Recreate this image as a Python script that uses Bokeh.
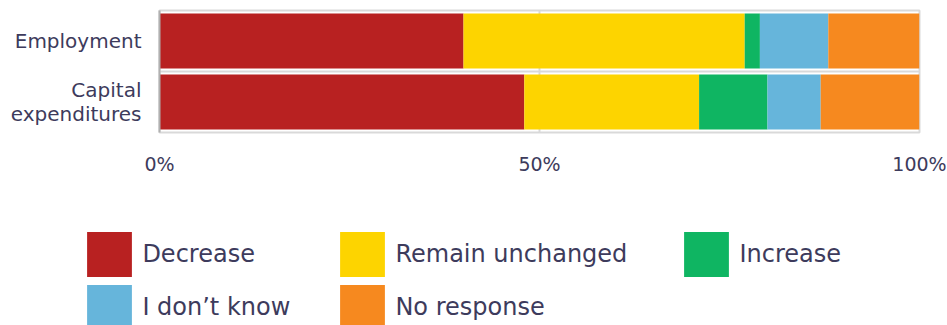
from bokeh.plotting import figure
from bokeh.models import (FactorRange, Legend, LegendItem, FixedTicker, Span,
                          ColumnDataSource, Range1d)
from bokeh.embed import file_html
from bokeh.resources import INLINE

# ---- data ----
categories = ["Employment", "Capital\nexpenditures"]
series = ["Decrease", "Remain unchanged", "Increase", "I don't know", "No response"]
legend_labels = ["Decrease", "Remain unchanged", "Increase", "I don\u2019t know", "No response"]
decrease = [40, 48]
remain_unchanged = [37, 23]
increase = [2, 9]
dont_know = [9, 7]
no_response = [12, 13]
x_ticks = [0, 50, 100]
x_tick_labels = ["0%", "50%", "100%"]

colors = ["#B82121", "#FDD400", "#0FB562", "#66B5DB", "#F6891F"]
text_color = "#3d3b5c"
font = "DejaVu Sans"

source = ColumnDataSource(data=dict(
    cat=categories,
    **{"Decrease": decrease, "Remain unchanged": remain_unchanged,
       "Increase": increase, "I don't know": dont_know, "No response": no_response}))

W = 947
H1, H2 = 185, 140
FL, FT, FW, FH = 159, 10, 760, 122

# ---------------- chart ----------------
p = figure(width=W, height=H1, output_backend="svg", toolbar_location=None,
           y_range=FactorRange(*reversed(categories)), x_range=(0, 100),
           min_border_left=FL, min_border_top=FT,
           min_border_right=W - FL - FW, min_border_bottom=H1 - FT - FH)

p.hbar_stack(series, y="cat", height=0.9, color=colors,
             line_color=None, source=source)

p.outline_line_color = "#d9d9d9"
p.outline_line_width = 2
p.border_fill_color = "white"

p.ygrid.visible = False
p.xgrid.ticker = FixedTicker(ticks=x_ticks)
p.xgrid.grid_line_color = "#d9d9d9"
p.xgrid.grid_line_width = 2

# separator between the two category bands
p.add_layout(Span(location=1.0, dimension="width", line_color="#d9d9d9",
                  line_width=2, level="underlay"))

xa = p.xaxis[0]
xa.ticker = FixedTicker(ticks=x_ticks)
xa.major_label_overrides = {t: l for t, l in zip(x_ticks, x_tick_labels)}
xa.axis_line_color = None
xa.major_tick_line_color = None
xa.minor_tick_line_color = None
xa.major_tick_out = 0
xa.major_label_standoff = 20
xa.major_label_text_font = font
xa.major_label_text_font_size = "19px"
xa.major_label_text_color = text_color

ya = p.yaxis[0]
ya.axis_line_color = "#b0b0b0"
ya.axis_line_width = 2
ya.major_tick_line_color = None
ya.minor_tick_line_color = None
ya.major_tick_out = 0
ya.major_label_standoff = 18
ya.major_label_text_font = font
ya.major_label_text_font_size = "20px"
ya.major_label_text_color = text_color
ya.major_label_text_line_height = 1.0

# ---------------- legend (own canvas, frame = whole canvas) ----------------
q = figure(width=W, height=H2, output_backend="svg", toolbar_location=None,
           x_axis_type=None, y_axis_type=None,
           y_range=FactorRange(*reversed(categories)), x_range=Range1d(-200, -100),
           min_border=0, min_border_left=0, min_border_right=0,
           min_border_top=0, min_border_bottom=0)
q.grid.visible = False
q.outline_line_color = None
q.border_fill_color = "white"
# same stacked bars (out of view) only to carry the legend swatches
swatches = q.hbar_stack(series, y="cat", height=0.9, color=colors,
                        line_color=None, source=source)

glyph = 56          # drawn swatch is inset 10% -> ~45px
inset = glyph * 0.1
col_x = [87, 340, 684]        # x of swatch left edge per column
row_y = [232, 285]            # y of swatch top per row (page)
positions = [(0, 0), (0, 1), (0, 2), (1, 0), (1, 1)]
for r, lab, (row, col) in zip(swatches, legend_labels, positions):
    lx = col_x[col] - inset
    ly = (H1 + H2) - (row_y[row] - inset + glyph)
    leg = Legend(items=[LegendItem(label=lab, renderers=[r])],
                 location=(lx, ly), orientation="vertical",
                 glyph_width=glyph, glyph_height=glyph,
                 label_standoff=5, padding=0, margin=0, spacing=0,
                 border_line_color=None, background_fill_alpha=0,
                 label_text_font=font, label_text_font_size="24px",
                 label_text_color=text_color, label_height=glyph)
    q.add_layout(leg, "center")

open("out.html", "w").write(file_html([p, q], INLINE))
